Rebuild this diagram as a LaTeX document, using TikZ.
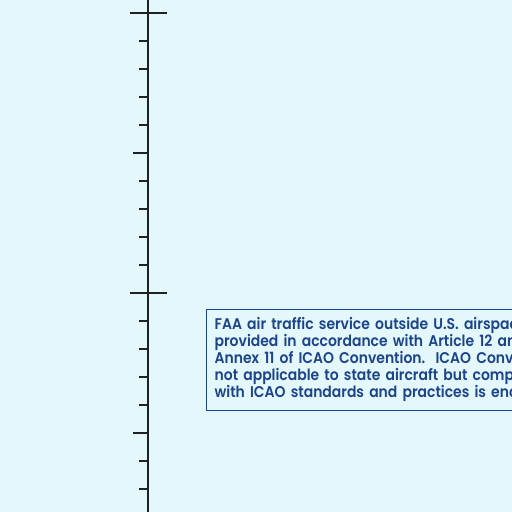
\documentclass[tikz,border=0pt]{standalone}
\usepackage{fontspec}
\usepackage{xcolor}
\newfontfamily\chartfont[UprightFont={* SemiBold}, FakeStretch=0.9]{Poppins}
\definecolor{chartbg}{RGB}{228,247,251}
\definecolor{chartblue}{RGB}{28,68,138}
\definecolor{chartline}{RGB}{30,32,36}

\begin{document}
\begin{tikzpicture}[x=1pt,y=-1pt,
    axis/.style={chartline, line width=1.8pt},
    notebox/.style={draw=chartblue, line width=1.3pt, text=chartblue, anchor=north west,
        align=left, inner xsep=8pt, inner ysep=6pt, text width=420pt,
        font=\chartfont\fontsize{15.5}{17}\selectfont}]
    \fill[chartbg] (0,0) rectangle (512,512);
    \useasboundingbox (0,0) rectangle (512,512);
    \clip (0,0) rectangle (512,512);

    \draw[axis] (148,0) -- (148,512);
    \draw[axis] (130,13) -- (167,13);
    \draw[axis] (130,293) -- (167,293);
    \foreach \k in {1,...,9,11,12,...,17} {
        \pgfmathsetmacro{\ty}{13+28*\k}
        \draw[axis] (139,\ty) -- (148,\ty);
    }
    \draw[axis] (133,153) -- (148,153);
    \draw[axis] (133,433) -- (148,433);

    \node[notebox, minimum height=101.5pt] (note) at (206,308.5) {FAA air traffic service outside U.S. airspace is\\
        provided in accordance with Article 12 and\\
        Annex 11 of ICAO Convention.\ \ ICAO Convention\\
        not applicable to state aircraft but compliance\\
        with ICAO standards and practices is encouraged.};
\end{tikzpicture}
\end{document}
